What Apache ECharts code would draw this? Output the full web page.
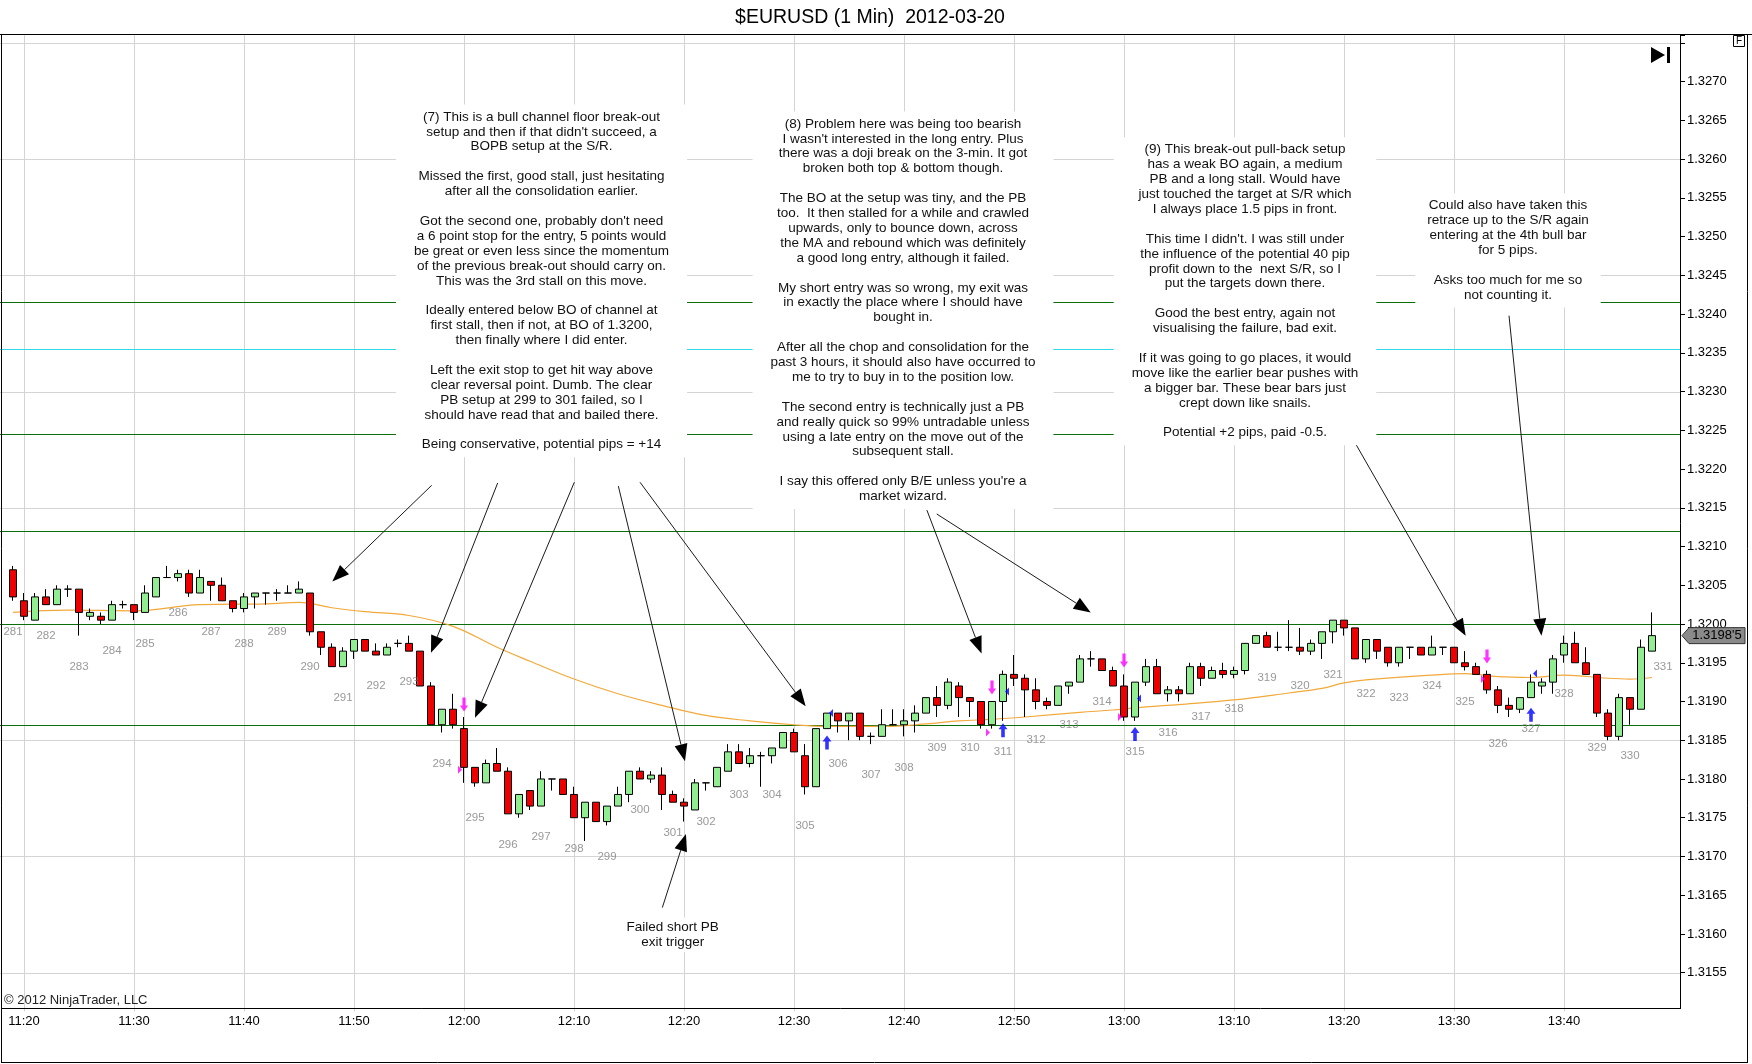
<!DOCTYPE html>
<html><head><meta charset="utf-8">
<script src="https://cdn.jsdelivr.net/npm/echarts@6/dist/echarts.min.js"></script>
<style>html,body{margin:0;padding:0;background:#fff}#c{width:1752px;height:1064px}</style>
</head><body><div id="c"></div>
<script>
// ---------- data ----------
const firstMinute = 11 * 60 + 18;      // first category (11:18)
const categoryCount = 153;              // 11:18 .. 13:50
const firstBarIndex = 1;                // first candle at 11:19
const firstBarNumber = 281;
const timeLabels = ['11:20','11:30','11:40','11:50','12:00','12:10','12:20','12:30','12:40','12:50','13:00','13:10','13:20','13:30','13:40'];

const opens = [
1.32070,1.32030,1.32005,1.32035,1.32025,1.32045,1.32045,1.32010,1.32010,1.32005,
1.32025,1.32025,1.32015,1.32035,1.32060,1.32060,1.32065,1.32040,1.32055,1.32050,
1.32030,1.32020,1.32035,1.32040,1.32040,1.32040,1.32040,1.32040,1.31990,1.31970,
1.31945,1.31965,1.31980,1.31965,1.31960,1.31975,1.31975,1.31965,1.31920,1.31870,
1.31890,1.31865,1.31815,1.31795,1.31820,1.31810,1.31755,1.31785,1.31765,1.31800,
1.31800,1.31780,1.31750,1.31770,1.31745,1.31765,1.31780,1.31810,1.31800,1.31805,
1.31780,1.31770,1.31760,1.31795,1.31790,1.31810,1.31835,1.31820,1.31830,1.31830,
1.31840,1.31860,1.31830,1.31790,1.31865,1.31885,1.31875,1.31885,1.31855,1.31855,
1.31870,1.31870,1.31875,1.31885,1.31905,1.31895,1.31920,1.31905,1.31900,1.31870,
1.31900,1.31935,1.31930,1.31915,1.31900,1.31895,1.31920,1.31925,1.31955,1.31955,
1.31940,1.31920,1.31880,1.31925,1.31945,1.31910,1.31915,1.31910,1.31945,1.31930,
1.31940,1.31935,1.31940,1.31975,1.31985,1.31970,1.31970,1.31970,1.31965,1.31975,
1.31990,1.32005,1.31995,1.31955,1.31980,1.31970,1.31950,1.31970,1.31970,1.31960,
1.31970,1.31970,1.31950,1.31945,1.31935,1.31915,1.31895,1.31890,1.31905,1.31920,
1.31925,1.31960,1.31975,1.31950,1.31935,1.31885,1.31855,1.31905,1.31890,1.31965];
const closes = [
1.32035,1.32010,1.32035,1.32025,1.32045,1.32045,1.32015,1.32015,1.32005,1.32025,
1.32025,1.32015,1.32040,1.32060,1.32060,1.32065,1.32040,1.32060,1.32050,1.32030,
1.32020,1.32035,1.32040,1.32040,1.32040,1.32040,1.32045,1.31990,1.31970,1.31945,
1.31965,1.31980,1.31965,1.31960,1.31970,1.31975,1.31965,1.31920,1.31870,1.31890,
1.31870,1.31815,1.31795,1.31820,1.31810,1.31755,1.31780,1.31765,1.31800,1.31800,
1.31780,1.31750,1.31770,1.31745,1.31765,1.31780,1.31810,1.31800,1.31805,1.31780,
1.31770,1.31765,1.31795,1.31795,1.31815,1.31835,1.31820,1.31830,1.31830,1.31840,
1.31860,1.31835,1.31790,1.31865,1.31885,1.31875,1.31885,1.31855,1.31855,1.31870,
1.31870,1.31875,1.31885,1.31905,1.31895,1.31925,1.31905,1.31900,1.31870,1.31900,
1.31935,1.31930,1.31915,1.31900,1.31895,1.31920,1.31925,1.31955,1.31955,1.31940,
1.31920,1.31880,1.31925,1.31945,1.31910,1.31915,1.31910,1.31945,1.31930,1.31940,
1.31935,1.31940,1.31975,1.31985,1.31970,1.31970,1.31970,1.31965,1.31975,1.31990,
1.32005,1.31995,1.31955,1.31980,1.31965,1.31950,1.31970,1.31970,1.31960,1.31970,
1.31970,1.31950,1.31945,1.31935,1.31915,1.31895,1.31890,1.31905,1.31925,1.31925,
1.31955,1.31975,1.31950,1.31935,1.31885,1.31855,1.31905,1.31890,1.31970,1.31985];
const lows = [
1.32030,1.32005,1.32005,1.32025,1.32025,1.32035,1.31985,1.32005,1.32000,1.32005,
1.32020,1.32005,1.32015,1.32035,1.32060,1.32055,1.32035,1.32040,1.32030,1.32030,
1.32015,1.32015,1.32020,1.32025,1.32030,1.32040,1.32040,1.31985,1.31960,1.31945,
1.31945,1.31955,1.31965,1.31960,1.31960,1.31970,1.31965,1.31920,1.31870,1.31860,
1.31865,1.31795,1.31790,1.31795,1.31810,1.31755,1.31750,1.31760,1.31765,1.31785,
1.31780,1.31750,1.31720,1.31745,1.31740,1.31765,1.31770,1.31800,1.31795,1.31760,
1.31770,1.31745,1.31760,1.31785,1.31790,1.31810,1.31820,1.31815,1.31790,1.31820,
1.31840,1.31835,1.31780,1.31790,1.31865,1.31860,1.31850,1.31850,1.31845,1.31855,
1.31870,1.31855,1.31860,1.31885,1.31880,1.31890,1.31880,1.31880,1.31865,1.31865,
1.31875,1.31920,1.31880,1.31890,1.31890,1.31895,1.31910,1.31925,1.31945,1.31940,
1.31920,1.31875,1.31875,1.31920,1.31910,1.31900,1.31900,1.31910,1.31920,1.31930,
1.31930,1.31930,1.31935,1.31975,1.31970,1.31965,1.31965,1.31960,1.31960,1.31955,
1.31975,1.31985,1.31955,1.31950,1.31955,1.31945,1.31945,1.31955,1.31960,1.31960,
1.31960,1.31950,1.31940,1.31935,1.31910,1.31885,1.31880,1.31885,1.31905,1.31910,
1.31910,1.31950,1.31950,1.31935,1.31880,1.31850,1.31850,1.31870,1.31890,1.31965];
const highs = [
1.32075,1.32040,1.32040,1.32045,1.32050,1.32050,1.32045,1.32020,1.32015,1.32030,
1.32030,1.32025,1.32050,1.32060,1.32075,1.32070,1.32070,1.32070,1.32055,1.32060,
1.32030,1.32040,1.32040,1.32040,1.32045,1.32050,1.32055,1.32040,1.31990,1.31975,
1.31970,1.31980,1.31980,1.31975,1.31975,1.31980,1.31985,1.31965,1.31925,1.31890,
1.31910,1.31880,1.31815,1.31825,1.31840,1.31815,1.31780,1.31785,1.31810,1.31800,
1.31800,1.31790,1.31770,1.31770,1.31765,1.31790,1.31810,1.31815,1.31810,1.31815,
1.31785,1.31775,1.31800,1.31795,1.31815,1.31845,1.31845,1.31840,1.31835,1.31840,
1.31860,1.31865,1.31845,1.31865,1.31885,1.31885,1.31885,1.31885,1.31860,1.31890,
1.31890,1.31890,1.31895,1.31905,1.31920,1.31930,1.31925,1.31905,1.31900,1.31900,
1.31940,1.31960,1.31935,1.31930,1.31905,1.31920,1.31925,1.31960,1.31965,1.31955,
1.31945,1.31935,1.31925,1.31955,1.31955,1.31920,1.31920,1.31950,1.31950,1.31945,
1.31950,1.31945,1.31975,1.31985,1.31990,1.31990,1.32005,1.31995,1.31980,1.31990,
1.32005,1.32005,1.31995,1.31980,1.31980,1.31970,1.31970,1.31970,1.31970,1.31985,
1.31970,1.31970,1.31965,1.31950,1.31940,1.31920,1.31905,1.31905,1.31935,1.31930,
1.31960,1.31985,1.31990,1.31970,1.31935,1.31890,1.31910,1.31905,1.31980,1.32015];

// moving average: [minute index from 11:18, price]
const maPoints = [[1,1.32015],[6,1.32018],[12,1.32017],[18,1.32025],[24,1.32026],[27,1.32028],[30,1.32021],[33,1.32016],[37,1.32011],[41,1.31997],[45,1.31970],[48,1.31952],[52,1.31929],[56,1.31910],[60,1.31895],[64,1.31882],[68,1.31875],[72,1.31870],[75,1.31868],[80,1.31868],[84,1.31871],[87,1.31875],[90,1.31877],[93,1.31880],[98,1.31886],[101,1.31889],[104,1.31893],[107,1.31896],[112,1.31902],[117,1.31911],[120,1.31917],[122,1.31924],[124,1.31928],[130,1.31934],[133,1.31936],[136,1.31932],[139,1.31931],[142,1.31934],[146,1.31930],[148,1.31929],[150,1.31931]];

const greenLevels = [1.32415, 1.32245, 1.32120, 1.32000, 1.31870];
const cyanLevels = [1.32355];
const gridLevels = [1.3155, 1.3170, 1.3185, 1.3200, 1.3215, 1.3230, 1.3245, 1.3260, 1.3275];
const yLabelMin = 1.3155, yLabelMax = 1.3270;

// execution markers [minute index, price]
const sellArrows = [[42,1.31896],[90,1.31918],[102,1.31953],[135,1.31958]];
const buyArrows = [[75,1.31847],[91,1.31863],[103,1.31858],[139,1.31883]];
const sellFills = [[42,1.31812],[90,1.31860],[102,1.31880],[135,1.31929]];
const buyFills = [[75,1.31885],[91,1.31913],[103,1.31904],[139,1.31936]];
const extraBarLabel = [331, 151, 1.31985];

// annotation arrows [fromMinute, fromPrice, toMinute, toPrice]
const arrows = [
 [39.06,1.32179,30.03,1.32055],
 [45.06,1.32182,39.00,1.31963],
 [52.03,1.32183,43.00,1.31879],
 [56.03,1.32178,62.09,1.31823],
 [58.00,1.32183,73.06,1.31894],
 [60.03,1.31634,62.18,1.31729],
 [84.08,1.32147,89.05,1.31962],
 [84.98,1.32142,98.97,1.32015],
 [122.03,1.32258,133.06,1.31985],
 [137.00,1.32398,139.95,1.31985]
];

const note7 = ["(7) This is a bull channel floor break-out","setup and then if that didn't succeed, a","BOPB setup at the S/R.","","Missed the first, good stall, just hesitating","after all the consolidation earlier.","","Got the second one, probably don't need","a 6 point stop for the entry, 5 points would","be great or even less since the momentum","of the previous break-out should carry on.","This was the 3rd stall on this move.","","Ideally entered below BO of channel at","first stall, then if not, at BO of 1.3200,","then finally where I did enter.","","Left the exit stop to get hit way above","clear reversal point. Dumb. The clear","PB setup at 299 to 301 failed, so I","should have read that and bailed there.","","Being conservative, potential pips = +14"];
const note8 = ["(8) Problem here was being too bearish","I wasn't interested in the long entry. Plus","there was a doji break on the 3-min. It got","broken both top & bottom though.","","The BO at the setup was tiny, and the PB","too.  It then stalled for a while and crawled","upwards, only to bounce down, across","the MA and rebound which was definitely","a good long entry, although it failed.","","My short entry was so wrong, my exit was","in exactly the place where I should have","bought in.","","After all the chop and consolidation for the","past 3 hours, it should also have occurred to","me to try to buy in to the position low.","","The second entry is technically just a PB","and really quick so 99% untradable unless","using a late entry on the move out of the","subsequent stall.","","I say this offered only B/E unless you're a","market wizard."];
const note9 = ["(9) This break-out pull-back setup","has a weak BO again, a medium","PB and a long stall. Would have","just touched the target at S/R which","I always place 1.5 pips in front.","","This time I didn't. I was still under","the influence of the potential 40 pip","profit down to the  next S/R, so I","put the targets down there.","","Good the best entry, again not","visualising the failure, bad exit.","","If it was going to go places, it would","move like the earlier bear pushes with","a bigger bar. These bear bars just","crept down like snails.","","Potential +2 pips, paid -0.5."];
const note10 = ["Could also have taken this","retrace up to the S/R again","entering at the 4th bull bar","for 5 pips.","","Asks too much for me so","not counting it."];
const noteFailed = ["Failed short PB","exit trigger"];
const titleText = "$EURUSD (1 Min)  2012-03-20";
const copyrightText = "\u00A9 2012 NinjaTrader, LLC";

// ---------- build ----------
const pad2 = n => (n < 10 ? '0' : '') + n;
const categories = [];
for (let i = 0; i < categoryCount; i++) {
  const m = firstMinute + i;
  categories.push(Math.floor(m / 60) + ':' + pad2(m % 60));
}
const candleData = categories.map((c, i) => {
  const k = i - firstBarIndex;
  return (k >= 0 && k < opens.length) ? [opens[k], closes[k], lows[k], highs[k]] : '-';
});
const barLabels = [];
for (let k = 0; k < opens.length; k += 3) {
  barLabels.push({ value: [k + firstBarIndex, lows[k]], name: String(firstBarNumber + k / 3) });
}
barLabels.push({ value: [extraBarLabel[1], extraBarLabel[2]], name: String(extraBarLabel[0]) });

const onTimeLabel = (idx, val) => timeLabels.indexOf(val) >= 0;
const FONT = '"Liberation Sans", Arial, sans-serif';

function hLineSeries(levels, color, z) {
  return {
    type: 'custom', xAxisIndex: 1, yAxisIndex: 0, z: z, silent: true, clip: false,
    data: levels.map(v => [0, v]),
    renderItem: (params, api) => {
      const y = Math.round(api.coord([0, api.value(1)])[1]) + 0.5;
      const cs = params.coordSys;
      return { type: 'line', shape: { x1: 0, y1: y, x2: cs.x + cs.width + 6, y2: y },
               style: { stroke: color, lineWidth: 1 } };
    }
  };
}

const chart = echarts.init(document.getElementById('c'), null, { renderer: 'canvas' });

const staticGraphics = [
  { type: 'text', x: 870, y: 18, z: 120, style: { text: titleText, font: '19.5px ' + FONT, fill: '#000', align: 'center', verticalAlign: 'middle' } },
  { type: 'line', z: 120, shape: { x1: 0, y1: 34.5, x2: 1752, y2: 34.5 }, style: { stroke: '#000', lineWidth: 1 } },
  { type: 'line', z: 120, shape: { x1: 1.5, y1: 34.5, x2: 1.5, y2: 1063 }, style: { stroke: '#000', lineWidth: 1 } },
  { type: 'line', z: 120, shape: { x1: 1747.5, y1: 34.5, x2: 1747.5, y2: 1063 }, style: { stroke: '#000', lineWidth: 1 } },
  { type: 'line', z: 120, shape: { x1: 1, y1: 1062.5, x2: 1748, y2: 1062.5 }, style: { stroke: '#000', lineWidth: 1 } },
  { type: 'line', z: 120, shape: { x1: 1.5, y1: 1008.5, x2: 1680, y2: 1008.5 }, style: { stroke: '#000', lineWidth: 1 } },
  { type: 'rect', z: 120, shape: { x: 1733.5, y: 35.5, width: 11, height: 11 }, style: { fill: '#fff', stroke: '#000', lineWidth: 1 } },
  { type: 'text', z: 121, x: 1739, y: 41.5, style: { text: 'F', font: '10px ' + FONT, fill: '#000', align: 'center', verticalAlign: 'middle' } },
  { type: 'polygon', z: 120, shape: { points: [[1651, 47], [1665, 55], [1651, 63]] }, style: { fill: '#000' } },
  { type: 'rect', z: 120, shape: { x: 1667, y: 47, width: 3, height: 16 }, style: { fill: '#000' } },
  { type: 'text', z: 120, x: 4, y: 1000, style: { text: copyrightText, font: '13px ' + FONT, fill: '#222', align: 'left', verticalAlign: 'middle' } }
];
function noteBox(lines, cx, top, padX) {
  return { type: 'text', x: cx, y: top, z: 100, silent: true,
    style: { text: lines.join('\n'), font: '13.5px ' + FONT, fill: '#111', align: 'center', verticalAlign: 'top',
             lineHeight: 14.9, backgroundColor: '#fff', padding: [5, padX, 5, padX] } };
}
staticGraphics.push(noteBox(note7, 541.5, 104.5, 18));
staticGraphics.push(noteBox(note8, 903, 111.5, 18));
staticGraphics.push(noteBox(note9, 1245, 137.2, 18));
staticGraphics.push(noteBox(note10, 1508, 193.2, 12));
staticGraphics.push({ type: 'text', x: 672.7, y: 917.6, z: 100, silent: true,
  style: { text: noteFailed.join('\n'), font: '13.5px ' + FONT, fill: '#111', align: 'center', verticalAlign: 'top', lineHeight: 15.2, backgroundColor: '#fff', padding: [2, 4, 2, 4] } });

const option = {
  animation: false,
  backgroundColor: '#fff',
  grid: { left: 2, top: 35.2, width: 1672, height: 976.2, containLabel: false },
  xAxis: [
    { type: 'category', data: categories, boundaryGap: false,
      axisLine: { show: false, onZero: false }, axisTick: { show: false },
      axisLabel: { interval: onTimeLabel, color: '#000', fontSize: 13, fontFamily: FONT, margin: 3.5 },
      splitLine: { show: true, interval: onTimeLabel, lineStyle: { color: '#d4d4d4', width: 1 } } },
    { type: 'value', min: 0, max: categoryCount - 1, show: false,
      axisLine: { show: false, onZero: false }, axisTick: { show: false }, axisLabel: { show: false }, splitLine: { show: false } }
  ],
  yAxis: [{
    type: 'value', position: 'right', offset: 6, min: 1.3150, max: 1.3276, interval: 0.0005, scale: true,
    axisLine: { show: true, onZero: false, lineStyle: { color: '#000', width: 1 } },
    axisTick: { show: true, length: 5, lineStyle: { color: '#000' } },
    axisLabel: { margin: 7, color: '#000', fontSize: 13, fontFamily: FONT,
      formatter: v => (v < yLabelMin - 1e-7 || v > yLabelMax + 1e-7) ? '' : v.toFixed(4) },
    splitLine: { show: false }
  }],
  series: [
    hLineSeries(gridLevels, '#d4d4d4', 1),
    hLineSeries(greenLevels, '#0a6e0a', 2),
    hLineSeries(cyanLevels, '#30d8ee', 2),
    { type: 'line', name: 'MA', xAxisIndex: 1, yAxisIndex: 0, z: 3, data: maPoints, smooth: 0.4,
      showSymbol: false, symbol: 'none', silent: true, lineStyle: { color: '#F2A93B', width: 1.2 } },
    { type: 'candlestick', xAxisIndex: 0, yAxisIndex: 0, z: 4, data: candleData, barWidth: 7,
      itemStyle: { color: '#90EE90', color0: '#EE0000', borderColor: '#000', borderColor0: '#000', borderColorDoji: '#000', borderWidth: 1 } },
    { type: 'scatter', xAxisIndex: 1, yAxisIndex: 0, z: 5, silent: true, data: barLabels,
      symbol: 'circle', symbolSize: 1, itemStyle: { color: 'rgba(0,0,0,0)' },
      label: { show: true, position: 'inside', offset: [0, 31], formatter: p => p.name, color: '#808080', fontSize: 11.5, fontFamily: FONT } },
    { type: 'scatter', xAxisIndex: 1, yAxisIndex: 0, z: 6, silent: true, data: sellArrows,
      symbol: 'path://M3,0 L7,0 L7,8 L10,8 L5,14 L0,8 L3,8 Z', symbolSize: [8, 14], itemStyle: { color: '#FF00FF' } },
    { type: 'scatter', xAxisIndex: 1, yAxisIndex: 0, z: 6, silent: true, data: buyArrows,
      symbol: 'path://M5,0 L10,6 L7,6 L7,14 L3,14 L3,6 L0,6 Z', symbolSize: [9, 14], itemStyle: { color: '#0000FF' } },
    { type: 'scatter', xAxisIndex: 1, yAxisIndex: 0, z: 6, silent: true, data: sellFills,
      symbol: 'path://M0,0 L5,4 L0,8 Z', symbolSize: [4, 8], symbolOffset: [-4, 0], itemStyle: { color: '#FF00FF' } },
    { type: 'scatter', xAxisIndex: 1, yAxisIndex: 0, z: 6, silent: true, data: buyFills,
      symbol: 'path://M5,0 L0,4 L5,8 Z', symbolSize: [4, 8], symbolOffset: [4, 0], itemStyle: { color: '#0000FF' } },
    { type: 'custom', xAxisIndex: 1, yAxisIndex: 0, z: 7, silent: true, clip: false, data: arrows,
      renderItem: (params, api) => {
        const a = api.coord([api.value(0), api.value(1)]);
        const b = api.coord([api.value(2), api.value(3)]);
        const dx = b[0] - a[0], dy = b[1] - a[1], len = Math.hypot(dx, dy);
        const ux = dx / len, uy = dy / len, hl = 17, hw = 6.5;
        const bx = b[0] - ux * hl, by = b[1] - uy * hl;
        return { type: 'group', children: [
          { type: 'line', shape: { x1: a[0], y1: a[1], x2: bx, y2: by }, style: { stroke: '#1a1a1a', lineWidth: 1 } },
          { type: 'polygon', shape: { points: [[b[0], b[1]], [bx - uy * hw, by + ux * hw], [bx + uy * hw, by - ux * hw]] }, style: { fill: '#000' } }
        ] };
      } }
  ],
  graphic: { elements: staticGraphics }
};
chart.setOption(option);

// current price marker on the price axis
const lastClose = closes[closes.length - 1];
const py = chart.convertToPixel({ yAxisIndex: 0 }, lastClose);
const axisX = 1680;
const s = lastClose.toFixed(5);
const priceText = s.slice(0, 6) + "'" + s.slice(6);
const marker = [
  { type: 'polygon', z: 130, shape: { points: [[axisX + 2, py], [axisX + 9, py - 8], [axisX + 65, py - 8], [axisX + 65, py + 8], [axisX + 9, py + 8]] },
    style: { fill: '#8a8a8a', stroke: '#333', lineWidth: 1 } },
  { type: 'text', z: 131, x: axisX + 37, y: py, style: { text: priceText, font: '13px ' + FONT, fill: '#000', align: 'center', verticalAlign: 'middle' } },
  // mask the axis stub below the panel frame
  { type: 'rect', z: 125, shape: { x: 1676, y: 1009, width: 12, height: 6 }, style: { fill: '#fff' } }
];
chart.setOption({ graphic: { elements: staticGraphics.concat(marker) } });
</script>
</body></html>
